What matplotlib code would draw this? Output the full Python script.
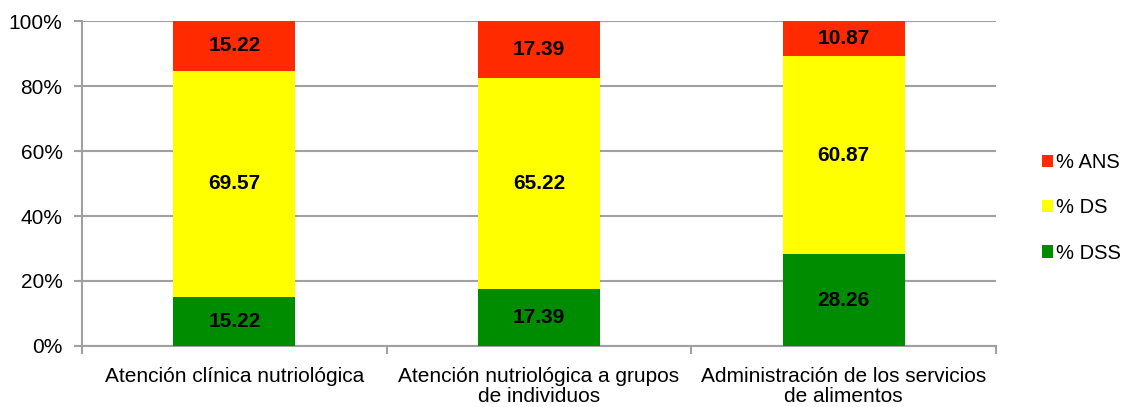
import matplotlib.pyplot as plt
import numpy as np

plt.rcParams['font.family'] = ['Liberation Sans', 'DejaVu Sans']

categorias = ['Atención clínica nutriológica',
              'Atención nutriológica a grupos\nde individuos',
              'Administración de los servicios\nde alimentos']
dss = [15.22, 17.39, 28.26]
ds = [69.57, 65.22, 60.87]
ans = [15.22, 17.39, 10.87]

fig = plt.figure(figsize=(11.3, 4.07), dpi=100)
ax = fig.add_axes([0.0726, 0.150, 0.8088, 0.798])

x = np.arange(len(categorias))
w = 0.4
gris = '#A0A0A0'
fs = 15

b1 = ax.bar(x, dss, w, color='#008C00', label='% DSS', zorder=3)
b2 = ax.bar(x, ds, w, bottom=dss, color='#FFFF00', label='% DS', zorder=3)
base = np.array(dss) + np.array(ds)
b3 = ax.bar(x, ans, w, bottom=base, color='#FF2A00', label='% ANS', zorder=3)

for barras, vals in [(b1, dss), (b2, ds), (b3, ans)]:
    for r, v in zip(barras, vals):
        ax.text(r.get_x() + r.get_width() / 2, r.get_y() + r.get_height() / 2,
                '%.2f' % v, ha='center', va='center', fontsize=fs,
                fontweight='bold', zorder=4)

ax.set_xlim(-0.5, 2.5)
ax.set_ylim(0, 100)
ax.set_yticks(range(0, 101, 20))
ax.set_yticklabels(['%d%%' % t for t in range(0, 101, 20)], fontsize=fs)
ax.yaxis.grid(True, color=gris, linewidth=1.5, zorder=0)

ax.set_xticks(x)
ax.set_xticklabels(categorias, fontsize=fs, linespacing=1.1)
ax.tick_params(axis='x', length=0, pad=15)
ax.set_xticks([-0.5, 0.5, 1.5, 2.5], minor=True)
ax.tick_params(axis='x', which='minor', length=6, color=gris, width=1.5)
ax.tick_params(axis='y', length=6, color=gris, width=1.5, pad=8)

for s in ['top', 'right']:
    ax.spines[s].set_visible(False)
for s in ['left', 'bottom']:
    ax.spines[s].set_color(gris)
    ax.spines[s].set_linewidth(1.5)

h, l = ax.get_legend_handles_labels()
ax.legend(h[::-1], l[::-1], loc='center left', bbox_to_anchor=(1.05, 0.425),
          frameon=False, fontsize=14.5, handlelength=0.55, handleheight=0.55,
          handletextpad=0.15, labelspacing=1.3, borderaxespad=0, borderpad=0)

fig.savefig('out.png', dpi=100)
